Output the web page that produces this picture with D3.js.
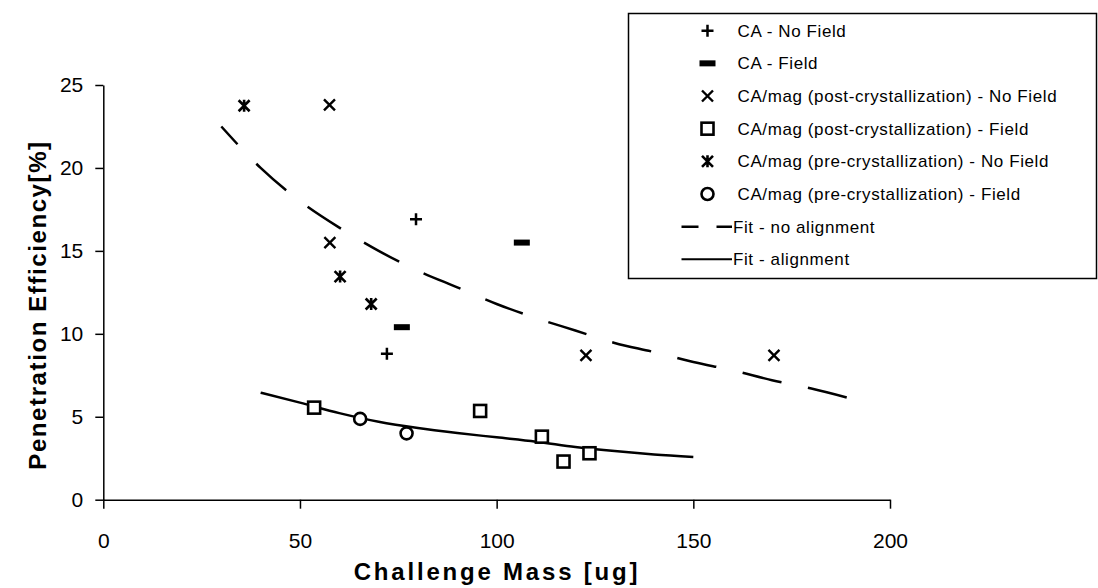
<!DOCTYPE html>
<html>
<head>
<meta charset="utf-8">
<script src="https://cdn.jsdelivr.net/npm/d3@7"></script>
<style>
  html, body { margin: 0; padding: 0; background: #fff; }
  svg { display: block; }
  text { font-family: "Liberation Sans", Arial, Helvetica, sans-serif; fill: #000; }
</style>
</head>
<body>
<svg id="chart" width="1098" height="588"></svg>
<script>
// ---- Data ----
const xTicks = [0, 50, 100, 150, 200];
const yTicks = [0, 5, 10, 15, 20, 25];

const caNoField      = [[79.5, 16.9], [72.1, 8.8]];
const caField        = [[75.9, 10.4], [106.4, 15.5]];
const postNoField    = [[57.5, 23.8], [57.6, 15.5], [122.7, 8.7], [170.5, 8.7]];
const postField      = [[53.6, 5.55], [95.8, 5.35], [111.5, 3.8], [117.0, 2.3], [123.6, 2.8]];
const preNoField     = [[35.8, 23.75], [60.2, 13.45], [68.1, 11.8]];
const preField       = [[65.3, 4.87], [77.1, 4.0]];

const fitNoAlignX = [30, 40, 50, 60, 70, 80, 90, 100, 110, 120, 130, 140, 150, 160, 170, 180, 190];
const fitNoAlignY = [22.5, 20.0, 18.0, 16.4, 15.0, 13.8, 12.8, 11.8, 10.95, 10.2, 9.45, 8.9, 8.3, 7.8, 7.2, 6.7, 6.1];
const fitAlignX   = [40, 50, 60, 70, 80, 90, 100, 110, 120, 130, 140, 150];
const fitAlignY   = [6.45, 5.85, 5.22, 4.7, 4.32, 4.02, 3.76, 3.5, 3.18, 2.93, 2.73, 2.58];

const legendLabels = [
  "CA - No Field",
  "CA - Field",
  "CA/mag (post-crystallization) - No Field",
  "CA/mag (post-crystallization) - Field",
  "CA/mag (pre-crystallization) - No Field",
  "CA/mag (pre-crystallization) - Field",
  "Fit - no alignment",
  "Fit - alignment"
];

// ---- Chart ----
const svg = d3.select("#chart");
const x = d3.scaleLinear().domain([0, 200]).range([103.3, 890]);
const y = d3.scaleLinear().domain([0, 25]).range([499.7, 85]);

// axes
const xAxis = svg.append("g").attr("transform", `translate(0,${y(0)})`)
  .call(d3.axisBottom(x).tickValues(xTicks).tickSize(9).tickSizeOuter(0).tickPadding(24));
const yAxis = svg.append("g").attr("transform", `translate(${x(0)},0)`)
  .call(d3.axisLeft(y).tickValues(yTicks).tickSize(8).tickSizeOuter(0).tickPadding(12));
[xAxis, yAxis].forEach(g => {
  g.selectAll("path.domain").attr("stroke", "#000").attr("stroke-width", 1.5);
  g.selectAll(".tick line").attr("stroke", "#000").attr("stroke-width", 1.5);
  g.selectAll(".tick text").attr("font-size", 21).attr("font-family", "Liberation Sans, Arial, sans-serif").attr("fill", "#000");
});

// axis titles
svg.append("text").attr("x", 497).attr("y", 580).attr("text-anchor", "middle")
  .attr("font-size", 24).attr("font-weight", "bold").attr("letter-spacing", 2.8).text("Challenge Mass [ug]");
svg.append("text").attr("transform", "translate(46,305) rotate(-90)").attr("text-anchor", "middle")
  .attr("font-size", 24).attr("font-weight", "bold").attr("letter-spacing", 1.6).text("Penetration Efficiency[%]");

// fit lines
const line = d3.line().x(d => x(d[0])).y(d => y(d[1])).curve(d3.curveMonotoneX);
svg.append("path").datum(fitNoAlignX.map((v, i) => [v, fitNoAlignY[i]]))
  .attr("d", line).attr("fill", "none").attr("stroke", "#000").attr("stroke-width", 2.5)
  .attr("stroke-dasharray", "40,27").attr("stroke-dashoffset", 16);
svg.append("path").datum(fitAlignX.map((v, i) => [v, fitAlignY[i]]))
  .attr("d", line).attr("fill", "none").attr("stroke", "#000").attr("stroke-width", 2.5);

// marker drawers
const markers = {
  plus: (g) => g.append("path").attr("d", "M-6,0H6M0,-6V6").attr("stroke", "#000").attr("stroke-width", 2.5).attr("fill", "none"),
  bar: (g) => g.append("rect").attr("x", -8).attr("y", -3).attr("width", 16).attr("height", 6).attr("fill", "#000"),
  cross: (g) => g.append("path").attr("d", "M-5.5,-5.5L5.5,5.5M-5.5,5.5L5.5,-5.5").attr("stroke", "#000").attr("stroke-width", 2.4).attr("fill", "none"),
  square: (g) => g.append("rect").attr("x", -6).attr("y", -6).attr("width", 12).attr("height", 12).attr("fill", "#fff").attr("stroke", "#000").attr("stroke-width", 2.6),
  star: (g) => g.append("path").attr("d", "M-5.5,-5.5L5.5,5.5M-5.5,5.5L5.5,-5.5M0,-6V6").attr("stroke", "#000").attr("stroke-width", 2.6).attr("fill", "none"),
  circle: (g) => g.append("circle").attr("r", 6).attr("fill", "#fff").attr("stroke", "#000").attr("stroke-width", 2.6)
};

const seriesList = [
  [caNoField, "plus"], [caField, "bar"], [postNoField, "cross"],
  [postField, "square"], [preNoField, "star"], [preField, "circle"]
];
seriesList.forEach(([data, m]) => {
  svg.append("g").selectAll("g").data(data).join("g")
    .attr("transform", d => `translate(${x(d[0])},${y(d[1])})`)
    .each(function () { markers[m](d3.select(this)); });
});

// legend
const lg = svg.append("g");
lg.append("rect").attr("x", 628.5).attr("y", 13.5).attr("width", 468).attr("height", 265)
  .attr("fill", "#fff").attr("stroke", "#000").attr("stroke-width", 1.5);
const rowY = d3.scalePoint().domain(d3.range(legendLabels.length)).range([30.7, 259.3]);
const markerOrder = ["plus", "bar", "cross", "square", "star", "circle"];
legendLabels.forEach((lab, i) => {
  const cy = rowY(i);
  if (i < 6) {
    const g = lg.append("g").attr("transform", `translate(707.5,${cy})`);
    markers[markerOrder[i]](g);
  } else if (i === 6) {
    lg.append("path").attr("d", `M681.5,${cy}H698.5M716.5,${cy}H732`).attr("stroke", "#000").attr("stroke-width", 2.5);
  } else {
    lg.append("path").attr("d", `M681.5,${cy}H732`).attr("stroke", "#000").attr("stroke-width", 2);
  }
  lg.append("text").attr("x", i < 6 ? 737.5 : 733).attr("y", cy + 6).attr("font-size", 17)
    .attr("letter-spacing", 0.6).text(lab);
});
</script>
</body>
</html>
